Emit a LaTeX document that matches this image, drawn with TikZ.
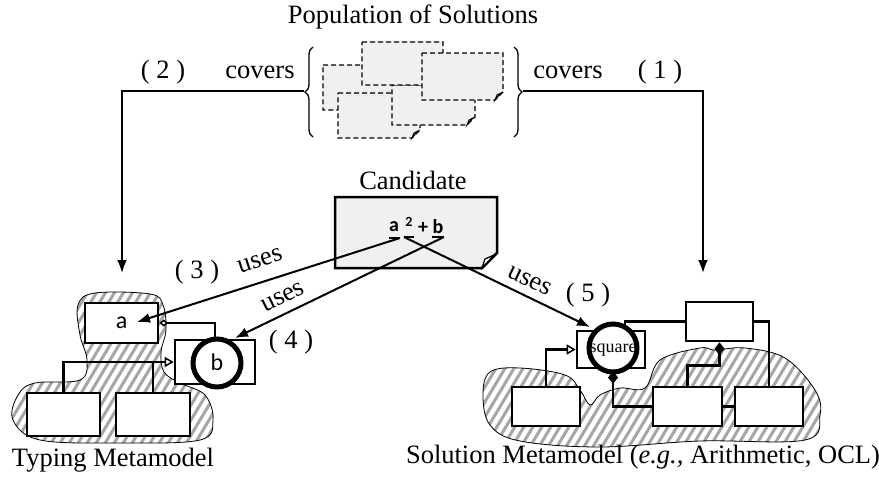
\documentclass[tikz,border=0pt]{standalone}
\usepackage{fontspec}
\setmainfont{Liberation Serif}
\newfontfamily\carl{Carlito}
\usetikzlibrary{arrows.meta,decorations.pathreplacing}
\tikzset{
  lbl/.style={font=\fontsize{26.5}{29}\selectfont, inner sep=0pt},
  paper/.style={draw, dash pattern=on 5pt off 3pt, fill=black!6, line width=1.3pt},
  mbox/.style={draw, line width=2.6pt, fill=white, inner sep=0pt},
  ring/.style={draw, circle, line width=5pt, fill=white, inner sep=0pt, minimum size=48pt},
  arr/.style={-{Latex[length=13pt,width=10pt]}, line width=2pt},
  conn/.style={line width=2.4pt},
  hatchline/.style={black!35, line width=3pt},
}
\newcommand\dpaper[4]{%
  \filldraw[paper] (#1,#2) -- (#3,#2) -- (#3,#4-8) -- (#3-8,#4) -- (#1,#4) -- cycle;
  \filldraw[line width=1pt, fill=white] (#3-8,#4) -- (#3-6,#4-5) -- (#3-2,#4-7) -- cycle;}
\begin{document}
\begin{tikzpicture}[x=1pt,y=-1pt]
\useasboundingbox (0,0) rectangle (879,480);

% ---------- Clouds ----------
\begin{scope}
\clip plot[smooth cycle, tension=0.6] coordinates {(78,305) (95,293) (150,294) (163,305) (166,330) (161,352) (164,372) (180,383) (205,395) (213,420) (200,440) (120,443) (40,440) (13,420) (18,395) (35,383) (80,380) (87,360) (80,335)};
\foreach \i in {-160,-151,...,240} \draw[hatchline] (\i,480) -- ({\i+288},0);
\end{scope}
\draw[line width=0.8pt] plot[smooth cycle, tension=0.6] coordinates {(78,305) (95,293) (150,294) (163,305) (166,330) (161,352) (164,372) (180,383) (205,395) (213,420) (200,440) (120,443) (40,440) (13,420) (18,395) (35,383) (80,380) (87,360) (80,335)};

\begin{scope}
\clip plot[smooth cycle, tension=0.6] coordinates {(490,372) (520,368) (565,375) (580,390) (590,405) (600,395) (620,388) (645,388) (660,360) (700,348) (715,350) (745,348) (785,358) (815,390) (820,415) (805,440) (700,441) (600,447) (520,441) (490,425) (483,395)};
\foreach \i in {330,339,...,840} \draw[hatchline] (\i,480) -- ({\i+288},0);
\end{scope}
\draw[line width=0.8pt] plot[smooth cycle, tension=0.6] coordinates {(490,372) (520,368) (565,375) (580,390) (590,405) (600,395) (620,388) (645,388) (660,360) (700,348) (715,350) (745,348) (785,358) (815,390) (820,415) (805,440) (700,441) (600,447) (520,441) (490,425) (483,395)};

% ---------- Population ----------
\node[lbl] (pop) at (413,17) {Population of Solutions};
\dpaper{323}{65}{420}{110}
\dpaper{338}{93}{420}{138}
\dpaper{392}{85}{475}{125}
\dpaper{362}{42}{443}{85}
\dpaper{422}{53}{503}{100}
\draw[line width=1.3pt, decorate, decoration={brace, amplitude=8pt}] (313,137) -- (313,47);
\draw[line width=1.3pt, decorate, decoration={brace, amplitude=8pt}] (514,47) -- (514,137);
\coordinate (bl) at (304,91);
\coordinate (br) at (523,91);

% ---------- Left model ----------
\node[mbox, minimum width=73pt, minimum height=40pt] (boxa) at (121.5,323) {};
\node[mbox, minimum width=80pt, minimum height=44pt] (boxb) at (215,362) {};
\node[mbox, minimum width=73pt, minimum height=43pt] (L1) at (63.5,414.5) {};
\node[mbox, minimum width=74pt, minimum height=43pt] (L2) at (153,414.5) {};
\draw[conn, {Diamond[open,length=9pt,width=7pt,line width=1.5pt]}-] (boxa.east) -| (boxb.north);
\draw[conn, -{Triangle[open,length=9pt,width=10pt,line width=1.5pt]}] (L1.north) |- (boxb.west);
\draw[conn] (L2.north) -- (L2.north |- boxb.west);
\node[ring] (ringb) at (217,363) {};
\node[font=\carl\fontsize{24}{26}\selectfont] (ta) at (121.5,323) {a};
\node[font=\carl\fontsize{24}{26}\selectfont] (tb) at (217,362) {b};

% ---------- Right model ----------
\node[mbox, minimum width=67pt, minimum height=39pt] (RT) at (719.5,321.5) {};
\node[mbox, minimum width=68pt, minimum height=37pt] (SQ) at (611,349.5) {};
\node[mbox, minimum width=68pt, minimum height=39pt] (R1) at (546,406.5) {};
\node[mbox, minimum width=69pt, minimum height=39pt] (R2) at (687.5,406.5) {};
\node[mbox, minimum width=68pt, minimum height=39pt] (R3) at (769,406.5) {};
\coordinate (sqtop) at (625,331);
\draw[conn] (RT.west) -| (sqtop);
\draw[conn] (RT.east) -| (R3.north);
\draw[conn, {Diamond[length=13pt,width=10pt]}-] (RT.south) -- ++(0,23) -| (R2.north);
\draw[conn, -{Triangle[open,length=9pt,width=10pt,line width=1.5pt]}] (R1.north) |- (SQ.west);
\draw[conn] (R2.east) -- (R3.west);
\node[ring] (ringsq) at (613,348) {};
\draw[conn, {Diamond[length=13pt,width=10pt]}-] (613,371) |- (R2.west);
\node[font=\fontsize{18}{20}\selectfont, inner sep=0pt] (tsq) at (613,350) {square};

% ---------- Candidate ----------
\node[lbl] (cand) at (413,180) {Candidate};
\filldraw[line width=2.5pt, fill=black!6] (335,197) -- (497,197) -- (497,253) -- (482,268) -- (335,268) -- cycle;
\filldraw[line width=1.2pt, fill=white] (482,268) -- (485,259) -- (494,255) -- cycle;
\node[font=\carl\bfseries\fontsize{20}{22}\selectfont, inner sep=0pt] (ca) at (394,227) {a};
\node[font=\carl\bfseries\fontsize{14}{16}\selectfont, inner sep=0pt] (c2) at (409,222) {2};
\node[font=\carl\bfseries\fontsize{20}{22}\selectfont, inner sep=0pt] (cp) at (423,228) {+};
\node[font=\carl\bfseries\fontsize{20}{22}\selectfont, inner sep=0pt] (cb) at (438,227) {b};
\coordinate (ua1) at (389,238); \coordinate (ua2) at (400,238);
\coordinate (u21) at (404,237); \coordinate (u22) at (414,237);
\coordinate (ub1) at (432,237); \coordinate (ub2) at (444,237);
\draw[line width=2pt] (ua1) -- (ua2);
\draw[line width=2pt] (u21) -- (u22);
\draw[line width=2pt] (ub1) -- (ub2);

% ---------- Arrows ----------
\coordinate (tipL) at (122,273);
\coordinate (tipR) at (703,273);
\draw[arr] (bl) -| (tipL);
\draw[arr] (br) -| (tipR);
\coordinate (tipa) at (137,322);
\coordinate (tipb) at (235,338);
\coordinate (tipsq) at (590,327);
\draw[arr] (ua2) -- (tipa);
\draw[arr] (ub2) -- (tipb);
\draw[arr] (u21) -- (tipsq);

% ---------- Labels ----------
\node[lbl] (l2) at (163,72) {( 2 )};
\node[lbl] (cov1) at (260,72) {covers};
\node[lbl] (cov2) at (568,72) {covers};
\node[lbl] (l1) at (660,72) {( 1 )};
\node[lbl] (l3) at (197,272) {( 3 )};
\node[lbl, rotate=18] (us3) at (260,261) {uses};
\node[lbl, rotate=26] (us4) at (283,297) {uses};
\node[lbl] (l4) at (291,342) {( 4 )};
\node[lbl, rotate=-26] (us5) at (530,281) {uses};
\node[lbl] (l5) at (588,295) {( 5 )};
\node[lbl] (tm) at (113,460) {Typing Metamodel};
\node[lbl] (sm) at (643,457) {Solution Metamodel (\textit{e.g.,} Arithmetic, OCL)};
\end{tikzpicture}
\end{document}
